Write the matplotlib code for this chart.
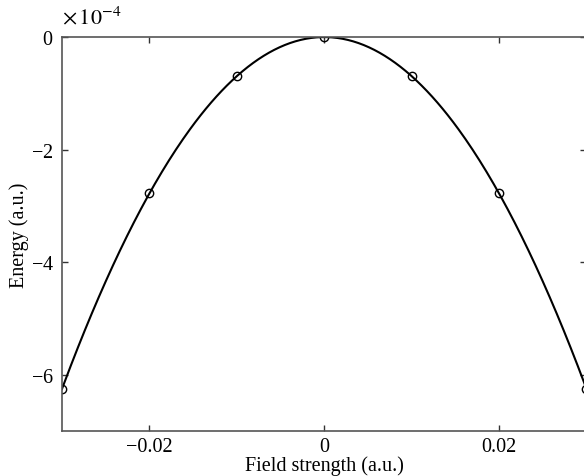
import numpy as np
import matplotlib.pyplot as plt

plt.rcParams['font.family'] = ['Liberation Serif', 'DejaVu Serif']
plt.rcParams['mathtext.fontset'] = 'stix'
plt.rcParams['font.size'] = 14.5

# computed energies at each field strength
field = [-0.03, -0.02, -0.01, 0.0, 0.01, 0.02, 0.03]
energy = [-6.25e-4, -2.78e-4, -0.695e-4, 0.0, -0.695e-4, -2.78e-4, -6.25e-4]

# quadratic fit through the computed points
coef = np.polyfit(field, energy, 2)
f_fine = np.linspace(field[0], field[-1], 300)
e_fine = np.polyval(coef, f_fine)

fig = plt.figure(figsize=(5.84, 4.77), dpi=100)
ax = fig.add_axes([0.1062, 0.0943, 0.898, 0.826])

ax.plot(f_fine, e_fine, color='black', lw=1.5)
ax.plot(field, energy, 'o', mfc='none', mec='black', ms=6, mew=1.0)

ax.set_xlim(-0.03, 0.03)
ax.set_ylim(-7e-4, 0)
ax.set_xticks([-0.02, 0, 0.02])
ax.set_xticklabels(['\u22120.02', '0', '0.02'])
ax.set_yticks([-6e-4, -4e-4, -2e-4, 0])
ax.ticklabel_format(axis='y', style='sci', scilimits=(0, 0), useMathText=True)

# exponent label placed by hand, a bit higher than the default
ax.yaxis.get_offset_text().set_visible(False)
ax.text(0.0, 1.022, r'$\times\,10^{-4}$', transform=ax.transAxes,
        fontsize=16, ha='left', va='bottom')

for sp in ax.spines.values():
    sp.set_color('#555555')
    sp.set_linewidth(1.2)
ax.tick_params(direction='in', length=4.5, width=1, color='#333333',
               top=True, right=True, pad=6)
ax.tick_params(axis='x', pad=4)

ax.set_xlabel('Field strength (a.u.)', labelpad=0)
ax.set_ylabel('Energy (a.u.)', labelpad=1)

fig.savefig('out.png', dpi=100)
